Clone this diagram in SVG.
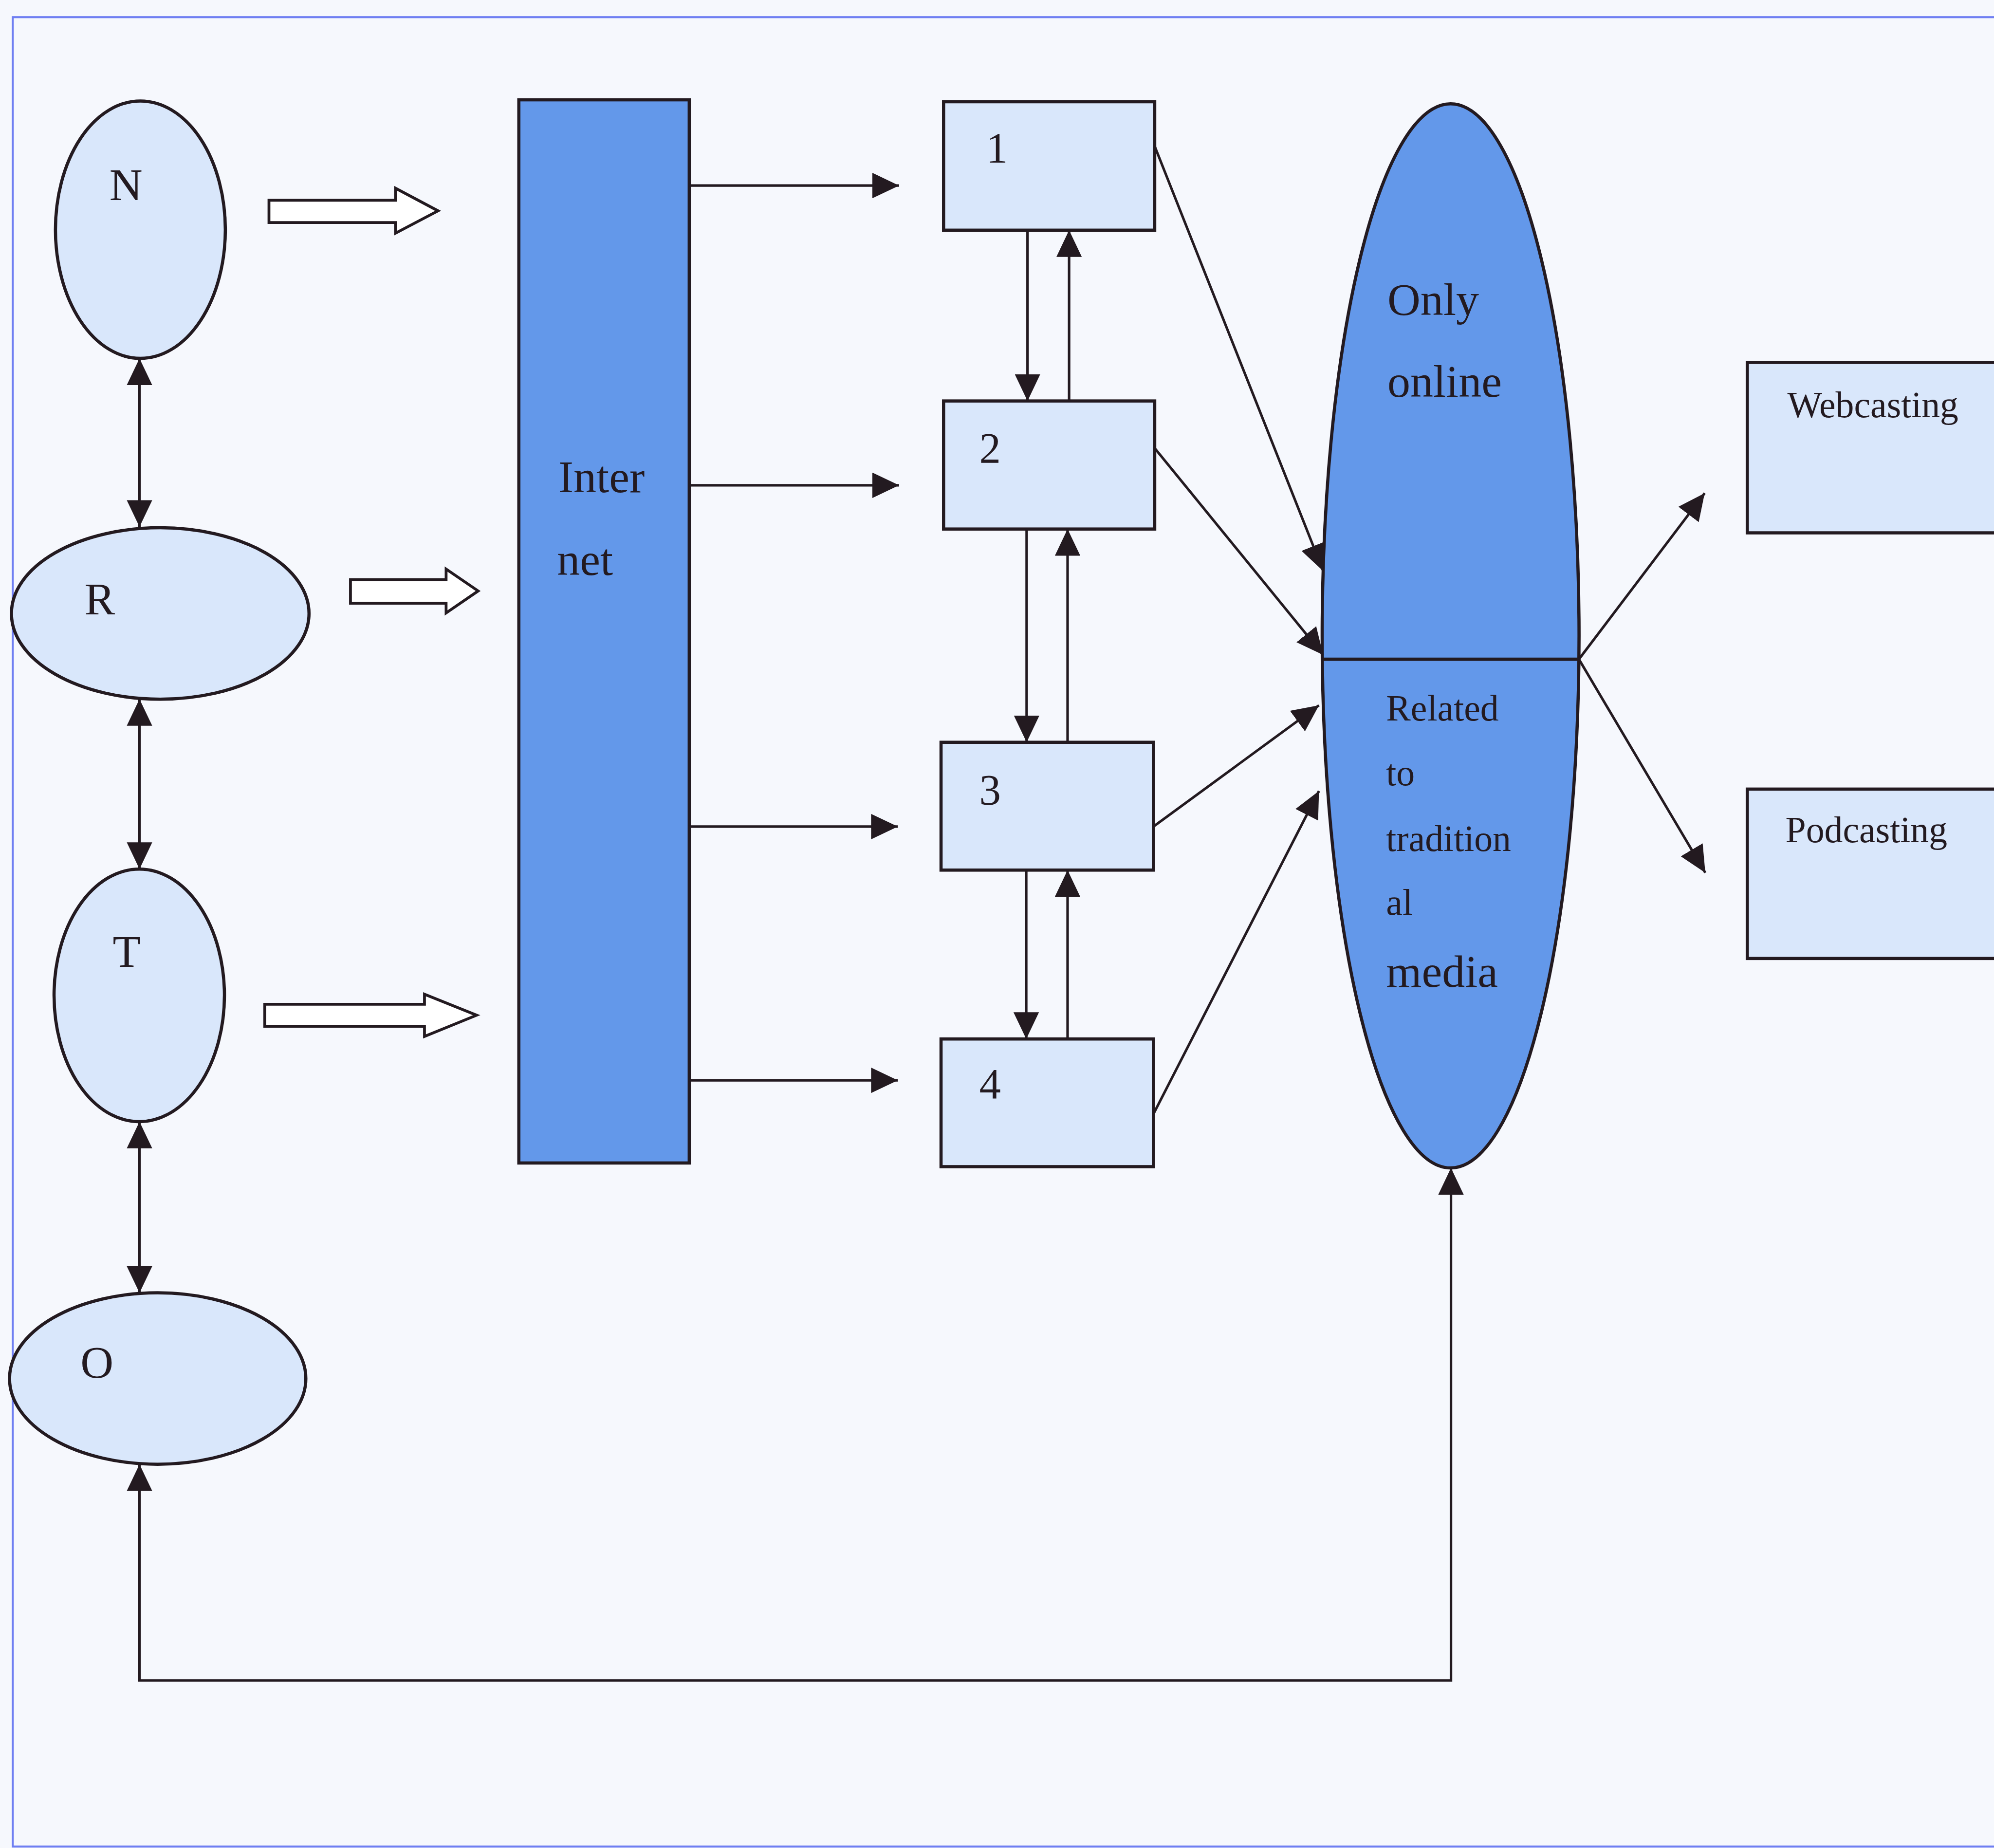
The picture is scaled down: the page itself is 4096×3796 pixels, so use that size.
<svg xmlns="http://www.w3.org/2000/svg" width="4096" height="3796" viewBox="0 0 4096 3796">
<defs>
<style>
.bg{fill:#f6f8fd}
.frame{fill:none;stroke:#6f7ff2;stroke-width:1.6}
.light{fill:#d9e7fb;stroke:#231a20;stroke-width:2.5}
.dark{fill:#6398ea;stroke:#231a20;stroke-width:2.5}
.conn{fill:none;stroke:#231a20;stroke-width:2}
.block{fill:#ffffff;stroke:#231a20;stroke-width:2.2;stroke-linejoin:miter}
text{font-family:"Liberation Serif","Times New Roman",serif;fill:#231a20}
.big{font-size:36px}
.num{font-size:34px}
.mid{font-size:36px}
.small{font-size:29px}
</style>
<marker id="ah" markerUnits="userSpaceOnUse" markerWidth="21" markerHeight="20" refX="21" refY="10" orient="auto-start-reverse" viewBox="0 0 21 20">
<path d="M0,0 L21,10 L0,20 Z" fill="#231a20"/>
</marker>
</defs>
<rect class="bg" x="0" y="0" width="4096" height="3796"/>
<g transform="scale(2.61224)">
<rect class="frame" x="10" y="13.5" width="1600" height="1438.5"/>

<g id="node-N"><ellipse class="light" cx="110.4" cy="180.6" rx="66.8" ry="101.2"/><text class="big" x="86" y="157.5" font-size="38">N</text></g>
<g id="node-R"><ellipse class="light" cx="126" cy="482.4" rx="117" ry="67.4"/><text class="big" x="66.4" y="483">R</text></g>
<g id="node-T"><ellipse class="light" cx="109.5" cy="782.7" rx="67" ry="99.3"/><text class="big" x="88.6" y="760.4">T</text></g>
<g id="node-O"><ellipse class="light" cx="124" cy="1084" rx="116.5" ry="67.4"/><text class="big" x="63.3" y="1083.3">O</text></g>

<g id="node-internet"><rect class="dark" x="408" y="78.5" width="134" height="836"/><text class="big" x="439" y="387">Inter</text><text class="big" x="438" y="452">net</text></g>

<g id="node-1"><rect class="light" x="742" y="80" width="166" height="101"/><text class="num" x="775.6" y="127.4">1</text></g>
<g id="node-2"><rect class="light" x="742" y="315.3" width="166" height="100.7"/><text class="num" x="770" y="363.7">2</text></g>
<g id="node-3"><rect class="light" x="740" y="583.7" width="167" height="100.5"/><text class="num" x="770" y="632.5">3</text></g>
<g id="node-4"><rect class="light" x="740" y="817" width="167" height="100.4"/><text class="num" x="770" y="863.8">4</text></g>

<g id="node-media">
<ellipse class="dark" cx="1140.7" cy="500" rx="101" ry="418.4"/>
<line x1="1039.8" y1="518.4" x2="1241.6" y2="518.4" stroke="#231a20" stroke-width="2.6"/>
<text class="mid" x="1091" y="247.6">Only</text>
<text class="mid" x="1091" y="312">online</text>
<text class="small" x="1090" y="566.6">Related</text>
<text class="small" x="1090" y="617.4">to</text>
<text class="small" x="1090" y="669.3">tradition</text>
<text class="small" x="1090" y="719.2">al</text>
<text class="mid" x="1090" y="776">media</text>
</g>

<g id="node-webcasting"><rect class="light" x="1374" y="285" width="240" height="134"/><text class="small" x="1405.5" y="328">Webcasting</text></g>
<g id="node-podcasting"><rect class="light" x="1374" y="620.5" width="240" height="133.2"/><text class="small" x="1404" y="662.4">Podcasting</text></g>

<g id="connectors">
<polygon class="block" points="211.5,157.5 311,157.5 311,148 344.5,165.8 311,183.4 311,175 211.5,175"/>
<polygon class="block" points="275.6,455.8 350.8,455.8 350.8,447.5 376,464.7 350.8,482 350.8,474.4 275.6,474.4"/>
<polygon class="block" points="208.2,789.7 333.8,789.7 333.8,781.8 374.8,798.3 333.8,815 333.8,807 208.2,807"/>

<line class="conn" x1="109.7" y1="281.8" x2="109.7" y2="414.3" marker-start="url(#ah)" marker-end="url(#ah)"/>
<line class="conn" x1="109.7" y1="549.7" x2="109.7" y2="683.4" marker-start="url(#ah)" marker-end="url(#ah)"/>
<line class="conn" x1="109.7" y1="882" x2="109.7" y2="1016.7" marker-start="url(#ah)" marker-end="url(#ah)"/>
<path class="conn" d="M1141,918.4 V1321.4 H109.7 V1151.4" marker-start="url(#ah)" marker-end="url(#ah)"/>

<line class="conn" x1="542" y1="145.9" x2="707" y2="145.9" marker-end="url(#ah)"/>
<line class="conn" x1="542" y1="381.6" x2="707" y2="381.6" marker-end="url(#ah)"/>
<line class="conn" x1="541" y1="650" x2="706" y2="650" marker-end="url(#ah)"/>
<line class="conn" x1="541" y1="849.5" x2="706" y2="849.5" marker-end="url(#ah)"/>

<line class="conn" x1="808" y1="181" x2="808" y2="315.3" marker-end="url(#ah)"/>
<line class="conn" x1="840.7" y1="315.3" x2="840.7" y2="181" marker-end="url(#ah)"/>
<line class="conn" x1="807.3" y1="416" x2="807.3" y2="583.7" marker-end="url(#ah)"/>
<line class="conn" x1="839.5" y1="583.7" x2="839.5" y2="416" marker-end="url(#ah)"/>
<line class="conn" x1="807" y1="684.2" x2="807" y2="817" marker-end="url(#ah)"/>
<line class="conn" x1="839.5" y1="817" x2="839.5" y2="684.2" marker-end="url(#ah)"/>

<line class="conn" x1="908" y1="115" x2="1040.5" y2="449" marker-end="url(#ah)"/>
<line class="conn" x1="908" y1="352.4" x2="1040.5" y2="515" marker-end="url(#ah)"/>
<line class="conn" x1="907" y1="650" x2="1037.2" y2="554.6" marker-end="url(#ah)"/>
<line class="conn" x1="907" y1="876" x2="1037.2" y2="622" marker-end="url(#ah)"/>

<line class="conn" x1="1241.6" y1="518.4" x2="1340.5" y2="387.8" marker-end="url(#ah)"/>
<line class="conn" x1="1241.6" y1="518.4" x2="1341" y2="686.3" marker-end="url(#ah)"/>
</g>
</g>
</svg>
